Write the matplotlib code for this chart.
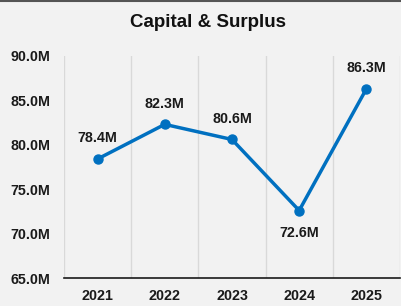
import matplotlib.pyplot as plt
from matplotlib.ticker import FuncFormatter, FixedLocator

plt.rcParams['font.family'] = ['Liberation Sans', 'DejaVu Sans']

years = ['2021', '2022', '2023', '2024', '2025']
values = [78.4, 82.3, 80.6, 72.6, 86.3]
label_pos = ['above', 'above', 'above', 'below', 'above']

bg = '#f2f2f2'
blue = '#0070c0'

fig = plt.figure(figsize=(4.02, 3.06), dpi=100, facecolor=bg)
ax = fig.add_axes([0.159, 0.0915, 0.836, 0.7255], facecolor=bg)

x = list(range(len(years)))
ax.plot(x, values, color=blue, lw=2.5, marker='o', ms=6.5, zorder=3)

for xi, v, pos in zip(x, values, label_pos):
    dy = 15 if pos == 'above' else -16
    ax.annotate(f'{v:.1f}M', (xi, v), xytext=(0, dy), textcoords='offset points',
                ha='center', va='center', fontsize=10.3, fontweight='bold', color='#1a1a1a')

ax.set_xlim(-0.5, len(years) - 0.5)
ax.set_ylim(65, 90)
ax.set_yticks([65, 70, 75, 80, 85, 90])
ax.yaxis.set_major_formatter(FuncFormatter(lambda v, p: f'{v:.1f}M'))
ax.set_xticks(x)
ax.set_xticklabels(years)
ax.xaxis.set_minor_locator(FixedLocator([i + 0.5 for i in range(-1, len(years))]))
ax.grid(which='minor', axis='x', color='#d9d9d9', lw=1)
ax.tick_params(which='both', length=0)
ax.tick_params(axis='y', pad=10)
ax.tick_params(axis='x', pad=8)
for lab in ax.get_xticklabels() + ax.get_yticklabels():
    lab.set_fontweight('bold')
    lab.set_fontsize(10.3)
    lab.set_color('#1a1a1a')

for s in ['top', 'right', 'left']:
    ax.spines[s].set_visible(False)
ax.spines['bottom'].set_color('#1a1a1a')
ax.spines['bottom'].set_linewidth(1.2)

fig.text(0.518, 0.925, 'Capital & Surplus', ha='center', va='center',
         fontsize=13.5, fontweight='bold', color='#111111')
fig.add_artist(plt.Line2D([0, 1], [0.998, 0.998], color='#555555', lw=1.5))

fig.savefig('out.png', dpi=100, facecolor=bg)
